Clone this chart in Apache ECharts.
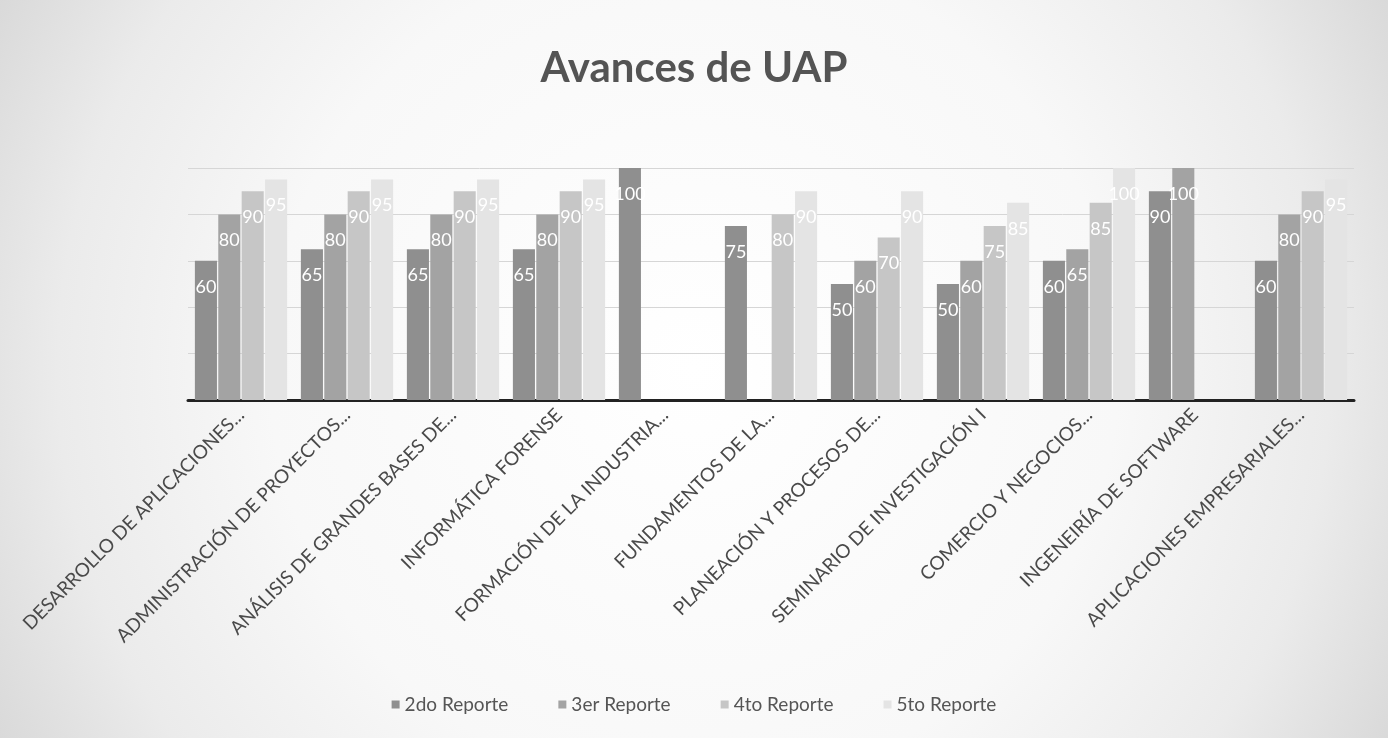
<!DOCTYPE html>
<html>
<head lang="es">
    <meta charset="UTF-8">
    <title>Avances de UAP</title>
    <style>
        html, body{
            margin:0;
            padding:0;
        }
        #avances_chart{
            width:1388px;
            height:738px;
        }
    </style>
</head>
<body>
    <div id="avances_chart"></div>
    <script src="https://cdn.jsdelivr.net/npm/echarts@6/dist/echarts.min.js"></script>
    <script>
    // materias (eje x)
    var materias = [
        'DESARROLLO DE APLICACIONES...',
        'ADMINISTRACIÓN DE PROYECTOS...',
        'ANÁLISIS DE GRANDES BASES DE...',
        'INFORMÁTICA FORENSE',
        'FORMACIÓN DE LA INDUSTRIA...',
        'FUNDAMENTOS DE LA...',
        'PLANEACIÓN Y PROCESOS DE...',
        'SEMINARIO DE INVESTIGACIÓN I',
        'COMERCIO Y NEGOCIOS...',
        'INGENEIRÍA DE SOFTWARE',
        'APLICACIONES EMPRESARIALES...'
    ];
    var reportes = ['2do Reporte', '3er Reporte', '4to Reporte', '5to Reporte'];
    // avance por reporte (null = sin dato)
    var reporte2 = [60, 65, 65, 65, 100, 75, 50, 50, 60, 90, 60];
    var reporte3 = [80, 80, 80, 80, null, null, 60, 60, 65, 100, 80];
    var reporte4 = [90, 90, 90, 90, null, 80, 70, 75, 85, null, 90];
    var reporte5 = [95, 95, 95, 95, null, 90, 90, 85, 100, null, 95];
    var colores = ['#8f8f8f', '#a3a3a3', '#c6c6c6', '#e4e4e4'];

    function serie(nombre, datos){
        return {
            name: nombre,
            type: 'bar',
            barGap: '6%',
            barCategoryGap: '13%',
            data: datos,
            label: {
                show: true,
                position: 'insideTop',
                distance: 17,
                color: '#ffffff',
                fontSize: 18,
                fontFamily: 'Lato'
            }
        };
    }

    var chart = echarts.init(document.getElementById('avances_chart'));
    var option = {
        backgroundColor: {
            type: 'radial',
            x: 0.5,
            y: 0.5,
            r: 1.15,
            colorStops: [
                {offset: 0, color: '#ffffff'},
                {offset: 0.5, color: '#f8f8f8'},
                {offset: 0.75, color: '#ebebeb'},
                {offset: 1, color: '#d2d2d2'}
            ]
        },
        color: colores,
        title: {
            text: 'Avances de UAP',
            left: 'center',
            top: 42,
            textStyle: {
                fontFamily: 'Lato',
                fontSize: 42,
                fontWeight: 'bold',
                color: '#545454'
            }
        },
        legend: {
            data: reportes,
            left: 'center',
            top: 690,
            icon: 'rect',
            itemWidth: 8,
            itemHeight: 8,
            itemGap: 50,
            textStyle: {
                fontFamily: 'Lato',
                fontSize: 19,
                color: '#555555'
            }
        },
        grid: {
            left: 188,
            right: 34,
            top: 168,
            bottom: 338,
            containLabel: false
        },
        xAxis: {
            type: 'category',
            data: materias,
            axisTick: {show: false},
            axisLine: {
                lineStyle: {color: '#222222', width: 3}
            },
            axisLabel: {
                rotate: 45,
                interval: 0,
                margin: 12,
                fontFamily: 'Lato',
                fontSize: 19,
                color: '#4a4a4a'
            }
        },
        yAxis: {
            type: 'value',
            min: 0,
            max: 100,
            interval: 20,
            axisLabel: {show: false},
            axisLine: {show: false},
            axisTick: {show: false},
            splitLine: {
                lineStyle: {color: '#d6d6d6', width: 1}
            }
        },
        series: [
            serie(reportes[0], reporte2),
            serie(reportes[1], reporte3),
            serie(reportes[2], reporte4),
            serie(reportes[3], reporte5)
        ]
    };
    chart.setOption(option);
    </script>
</body>
</html>
